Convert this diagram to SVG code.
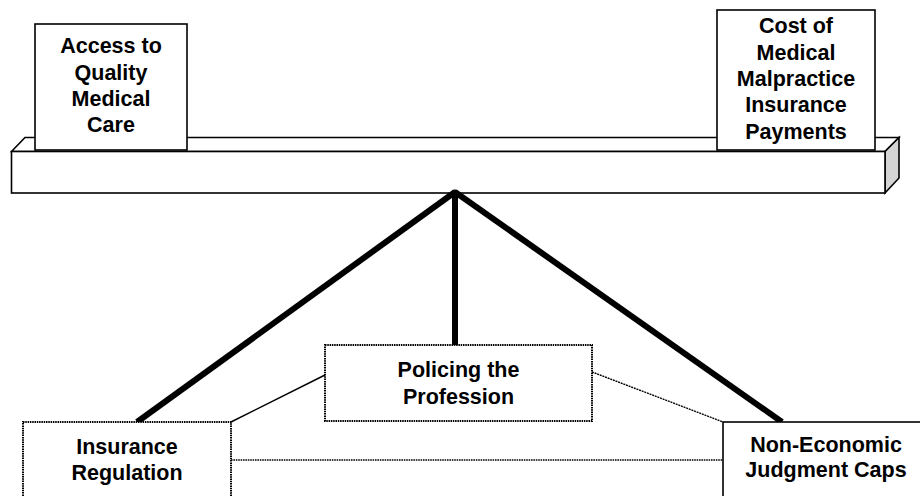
<svg xmlns="http://www.w3.org/2000/svg" width="920" height="496" viewBox="0 0 920 496">
<style>
.solid{fill:#fff;stroke:#000;stroke-width:1.6}
.dot{fill:#fff;stroke:#000;stroke-width:2;stroke-dasharray:1.5 0.8}
.thick{stroke:#000;stroke-width:6;fill:none;stroke-linecap:butt}
.thin{stroke:#000;stroke-width:1.4;fill:none}
text{font-family:"Liberation Sans",Arial,sans-serif;font-weight:bold;font-size:21.5px;text-anchor:middle;fill:#000}
</style>
<rect width="920" height="496" fill="#fff"/>
<g id="beam">
<polygon points="11.5,151.5 25,137.5 899,137.5 885,151.5" class="solid"/>
<polygon points="885,151.5 899,137.5 899,178 885,193" fill="#d4d4d4" stroke="#000" stroke-width="1.6"/>
<rect x="11.5" y="151.5" width="873.5" height="41.5" class="solid"/>
</g>
<g id="access">
<rect x="35" y="24" width="152" height="126" class="solid" stroke-width="2"/>
<text x="111" y="53">Access to</text>
<text x="111" y="79.5">Quality</text>
<text x="111" y="106">Medical</text>
<text x="111" y="132.3">Care</text>
</g>
<g id="cost">
<rect x="717" y="10" width="158" height="140" class="solid" stroke-width="2"/>
<text x="796" y="33.3">Cost of</text>
<text x="796" y="59.7">Medical</text>
<text x="796" y="86">Malpractice</text>
<text x="796" y="112.4">Insurance</text>
<text x="796" y="138.8">Payments</text>
</g>
<g id="connectors">
<line x1="455" y1="192" x2="137" y2="422" class="thick"/>
<line x1="455" y1="192" x2="455" y2="345" class="thick"/>
<line x1="455" y1="192" x2="782" y2="422" class="thick"/>
<circle cx="455" cy="193" r="3.5" fill="#000"/>
<line x1="231" y1="422" x2="325" y2="375" class="thin"/>
<line x1="592" y1="372" x2="723" y2="422" class="thin" stroke-dasharray="2 0.8"/>
<line x1="231" y1="460" x2="723" y2="460" class="thin" stroke-dasharray="1.6 0.8"/>
</g>
<g id="policing">
<rect x="325" y="345" width="267" height="76" class="dot"/>
<text x="458.5" y="377.3">Policing the</text>
<text x="458.5" y="403.5">Profession</text>
</g>
<g id="insurance">
<rect x="23" y="422" width="208" height="90" class="dot"/>
<text x="127" y="454">Insurance</text>
<text x="127" y="480">Regulation</text>
</g>
<g id="caps">
<rect x="723" y="422" width="210" height="90" class="solid"/>
<text x="826" y="451.7">Non-Economic</text>
<text x="826" y="477.3">Judgment Caps</text>
</g>
</svg>
